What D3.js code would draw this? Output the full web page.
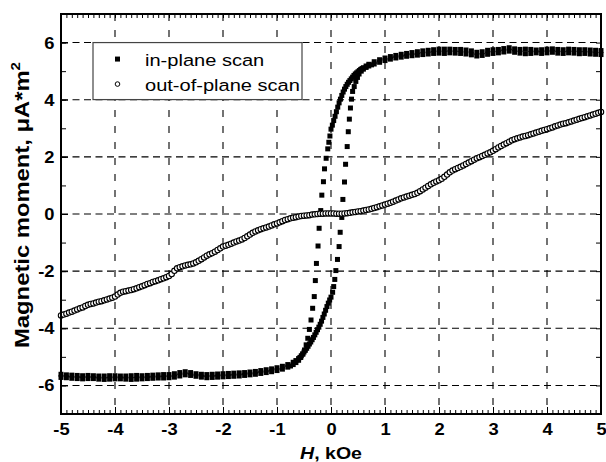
<!DOCTYPE html>
<html>
<head>
<meta charset="utf-8">
<script src="https://cdn.jsdelivr.net/npm/d3@7"></script>
<style>
  body { margin: 0; background: #fff; }
  svg text { font-family: "Liberation Sans", Arial, sans-serif; fill: #000; }
</style>
</head>
<body>
<div id="chart"></div>
<script>
// tick labels
const xTicks = [-5, -4, -3, -2, -1, 0, 1, 2, 3, 4, 5];
const yTicks = [-6, -4, -2, 0, 2, 4, 6];
const legendLabels = ["in-plane scan", "out-of-plane scan"];

// in-plane scan, descending field branch  [H (kOe), moment]
const ipDownSat = [[5.0,5.72],[4.9,5.73],[4.8,5.74],[4.7,5.75],[4.6,5.75],[4.5,5.76],[4.4,5.77],[4.3,5.75],[4.2,5.76],[4.1,5.78],
  [4.0,5.77],[3.9,5.75],[3.8,5.74],[3.7,5.76],[3.6,5.77],[3.5,5.76],[3.4,5.78],[3.3,5.82],[3.2,5.79],[3.1,5.76],
  [3.0,5.75],[2.9,5.73],[2.8,5.68],[2.7,5.66],[2.6,5.71],[2.5,5.74],[2.4,5.76],[2.3,5.76],[2.2,5.77],[2.1,5.77],
  [2.0,5.77],[1.9,5.75],[1.8,5.73],[1.7,5.71],[1.6,5.68],[1.5,5.65],[1.4,5.62],[1.3,5.59],[1.2,5.55],[1.1,5.51],
  [1.0,5.46],[0.9,5.40],[0.8,5.33],[0.7,5.24],[0.65,5.18]];
const ipDownSteep = [[0.6,5.12],[0.575,5.09],[0.55,5.06],[0.525,5.02],[0.5,4.98],[0.475,4.94],[0.45,4.90],[0.425,4.85],
  [0.4,4.79],[0.375,4.73],[0.35,4.67],[0.325,4.61],[0.3,4.54],[0.275,4.46],[0.25,4.37],[0.225,4.27],[0.2,4.15],
  [0.175,4.02],[0.15,3.89],[0.125,3.74],[0.1,3.58],[0.075,3.42],[0.05,3.27],[0.025,3.11],[0.0,2.97]];
const ipDownSwitch = [[-0.02,2.73],[-0.04,2.51],[-0.06,2.28],[-0.09,1.95],[-0.12,1.58],[-0.14,1.13],[-0.17,0.66],
  [-0.19,0.12],[-0.22,-0.5],[-0.24,-1.12],[-0.27,-1.73],[-0.29,-2.33],[-0.31,-2.89],[-0.34,-3.3],[-0.37,-3.71],
  [-0.40,-4.04],[-0.43,-4.35],[-0.46,-4.58]];
const ipDownNeg = [[-0.49,-4.76],[-0.52,-4.9],[-0.56,-5.02],[-0.6,-5.12],[-0.65,-5.2],[-0.7,-5.27],[-0.75,-5.32],
  [-0.8,-5.36],[-0.9,-5.43],[-1.0,-5.48],[-1.1,-5.52],[-1.2,-5.55],[-1.3,-5.58],[-1.4,-5.61],[-1.5,-5.63],[-1.6,-5.65],
  [-1.7,-5.67],[-1.8,-5.68],[-1.9,-5.69],[-2.0,-5.70],[-2.1,-5.71],[-2.2,-5.72],[-2.3,-5.73],[-2.4,-5.71],[-2.5,-5.68],
  [-2.6,-5.65],[-2.7,-5.63],[-2.8,-5.67],[-2.9,-5.71],[-3.0,-5.73],[-3.1,-5.74],[-3.2,-5.74],[-3.3,-5.75],[-3.4,-5.76],
  [-3.5,-5.77],[-3.6,-5.78],[-3.7,-5.79],[-3.8,-5.78],[-3.9,-5.77],[-4.0,-5.77],[-4.1,-5.78],[-4.2,-5.79],[-4.3,-5.78],
  [-4.4,-5.76],[-4.5,-5.76],[-4.6,-5.77],[-4.7,-5.76],[-4.8,-5.75],[-4.9,-5.73],[-5.0,-5.72]];

// in-plane scan, ascending field branch
const ipUpSat = [[-5.0,-5.61],[-4.9,-5.63],[-4.8,-5.64],[-4.7,-5.65],[-4.6,-5.66],[-4.5,-5.65],[-4.4,-5.66],[-4.3,-5.67],
  [-4.2,-5.67],[-4.1,-5.66],[-4.0,-5.66],[-3.9,-5.67],[-3.8,-5.67],[-3.7,-5.66],[-3.6,-5.65],[-3.5,-5.66],[-3.4,-5.65],
  [-3.3,-5.64],[-3.2,-5.63],[-3.1,-5.62],[-3.0,-5.62],[-2.9,-5.59],[-2.8,-5.55],[-2.7,-5.52],[-2.6,-5.55],[-2.5,-5.59],
  [-2.4,-5.61],[-2.3,-5.62],[-2.2,-5.61],[-2.1,-5.60],[-2.0,-5.59],[-1.9,-5.58],[-1.8,-5.57],[-1.7,-5.56],[-1.6,-5.55],
  [-1.5,-5.53],[-1.4,-5.51],[-1.3,-5.48],[-1.2,-5.45],[-1.1,-5.42],[-1.0,-5.38],[-0.9,-5.33],[-0.8,-5.27],[-0.7,-5.19],
  [-0.65,-5.13]];
const ipUpSteep = [[-0.6,-5.06],[-0.575,-5.02],[-0.55,-4.96],[-0.525,-4.90],[-0.5,-4.83],[-0.475,-4.77],[-0.45,-4.70],
  [-0.425,-4.63],[-0.4,-4.55],[-0.375,-4.48],[-0.35,-4.40],[-0.325,-4.32],[-0.3,-4.23],[-0.275,-4.14],[-0.25,-4.05],
  [-0.225,-3.96],[-0.2,-3.86],[-0.175,-3.75],[-0.15,-3.62],[-0.125,-3.50],[-0.1,-3.37],[-0.075,-3.24],[-0.05,-3.12],
  [-0.025,-3.01],[0.0,-2.91]];
const ipUpSwitch = [[0.03,-2.74],[0.05,-2.54],[0.07,-2.29],[0.09,-1.98],[0.12,-1.59],[0.15,-1.14],[0.17,-0.64],
  [0.2,-0.12],[0.22,0.51],[0.25,1.12],[0.27,1.74],[0.3,2.36],[0.32,2.88],[0.34,3.32],[0.36,3.71],[0.38,4.02],
  [0.4,4.29],[0.43,4.46],[0.46,4.64]];
const ipUpPos = [[0.49,4.78],[0.52,4.9],[0.56,5.0],[0.6,5.07],[0.65,5.13],[0.7,5.18],[0.75,5.22],[0.8,5.25],
  [0.9,5.31],[1.0,5.37],[1.1,5.42],[1.2,5.46],[1.3,5.49],[1.4,5.52],[1.5,5.54],[1.6,5.56],[1.7,5.58],[1.8,5.60],
  [1.9,5.62],[2.0,5.63],[2.1,5.62],[2.2,5.64],[2.3,5.63],[2.4,5.62],[2.5,5.60],[2.6,5.57],[2.7,5.53],[2.8,5.55],
  [2.9,5.59],[3.0,5.62],[3.1,5.64],[3.2,5.67],[3.3,5.70],[3.4,5.66],[3.5,5.63],[3.6,5.61],[3.7,5.62],[3.8,5.64],
  [3.9,5.62],[4.0,5.64],[4.1,5.66],[4.2,5.63],[4.3,5.62],[4.4,5.64],[4.5,5.63],[4.6,5.61],[4.7,5.62],[4.8,5.60],
  [4.9,5.59],[5.0,5.58]];

// out-of-plane scan  [H (kOe), moment]
const oopScan = [[-5.0,-3.55],[-4.95,-3.52],[-4.9,-3.49],[-4.85,-3.45],[-4.8,-3.42],[-4.75,-3.38],[-4.7,-3.34],
  [-4.65,-3.30],[-4.6,-3.27],[-4.55,-3.22],[-4.5,-3.18],[-4.45,-3.15],[-4.4,-3.13],[-4.35,-3.10],[-4.3,-3.07],
  [-4.25,-3.05],[-4.2,-3.02],[-4.15,-2.99],[-4.1,-2.96],[-4.05,-2.93],[-4.0,-2.89],[-3.95,-2.82],[-3.9,-2.76],
  [-3.85,-2.72],[-3.8,-2.70],[-3.75,-2.68],[-3.7,-2.66],[-3.65,-2.63],[-3.6,-2.60],[-3.55,-2.56],[-3.5,-2.53],
  [-3.45,-2.49],[-3.4,-2.45],[-3.35,-2.42],[-3.3,-2.38],[-3.25,-2.35],[-3.2,-2.32],[-3.15,-2.28],[-3.1,-2.25],
  [-3.05,-2.21],[-3.0,-2.17],[-2.95,-2.10],[-2.9,-1.99],[-2.85,-1.90],[-2.8,-1.86],[-2.75,-1.83],[-2.7,-1.80],
  [-2.65,-1.78],[-2.6,-1.76],[-2.55,-1.73],[-2.5,-1.69],[-2.45,-1.64],[-2.4,-1.58],[-2.35,-1.52],[-2.3,-1.46],
  [-2.25,-1.41],[-2.2,-1.37],[-2.15,-1.32],[-2.1,-1.26],[-2.05,-1.20],[-2.0,-1.14],[-1.95,-1.11],[-1.9,-1.08],
  [-1.85,-1.04],[-1.8,-1.00],[-1.75,-0.96],[-1.7,-0.93],[-1.65,-0.89],[-1.6,-0.84],[-1.55,-0.78],[-1.5,-0.72],
  [-1.45,-0.66],[-1.4,-0.61],[-1.35,-0.57],[-1.3,-0.53],[-1.25,-0.50],[-1.2,-0.47],[-1.15,-0.44],[-1.1,-0.40],
  [-1.05,-0.36],[-1.0,-0.33],[-0.95,-0.29],[-0.9,-0.25],[-0.85,-0.21],[-0.8,-0.18],[-0.75,-0.15],[-0.7,-0.13],
  [-0.65,-0.11],[-0.6,-0.09],[-0.55,-0.07],[-0.5,-0.06],[-0.45,-0.05],[-0.4,-0.04],[-0.35,-0.02],[-0.3,-0.01],
  [-0.25,0.00],[-0.2,0.01],[-0.15,0.01],[-0.1,0.02],[-0.05,0.02],[0.0,0.02],[0.05,0.02],[0.1,0.01],[0.15,0.01],
  [0.2,0.01],[0.25,0.02],[0.3,0.03],[0.35,0.04],[0.4,0.06],[0.45,0.07],[0.5,0.09],[0.55,0.10],[0.6,0.12],
  [0.65,0.14],[0.7,0.16],[0.75,0.18],[0.8,0.21],[0.85,0.24],[0.9,0.27],[0.95,0.30],[1.0,0.33],[1.05,0.36],
  [1.1,0.39],[1.15,0.43],[1.2,0.47],[1.25,0.51],[1.3,0.55],[1.35,0.58],[1.4,0.61],[1.45,0.64],[1.5,0.67],
  [1.55,0.70],[1.6,0.74],[1.65,0.80],[1.7,0.86],[1.75,0.92],[1.8,0.98],[1.85,1.04],[1.9,1.09],[1.95,1.14],
  [2.0,1.18],[2.05,1.23],[2.1,1.30],[2.15,1.38],[2.2,1.46],[2.25,1.52],[2.3,1.57],[2.35,1.61],[2.4,1.65],
  [2.45,1.70],[2.5,1.75],[2.55,1.80],[2.6,1.85],[2.65,1.90],[2.7,1.95],[2.75,1.99],[2.8,2.03],[2.85,2.07],
  [2.9,2.12],[2.95,2.16],[3.0,2.21],[3.05,2.27],[3.1,2.33],[3.15,2.38],[3.2,2.43],[3.25,2.48],[3.3,2.53],
  [3.35,2.58],[3.4,2.62],[3.45,2.65],[3.5,2.68],[3.55,2.71],[3.6,2.73],[3.65,2.76],[3.7,2.79],[3.75,2.82],
  [3.8,2.85],[3.85,2.88],[3.9,2.91],[3.95,2.94],[4.0,2.97],[4.05,3.00],[4.1,3.03],[4.15,3.07],[4.2,3.10],
  [4.25,3.13],[4.3,3.16],[4.35,3.18],[4.4,3.21],[4.45,3.24],[4.5,3.27],[4.55,3.30],[4.6,3.33],[4.65,3.36],
  [4.7,3.39],[4.75,3.42],[4.8,3.45],[4.85,3.48],[4.9,3.51],[4.95,3.54],[5.0,3.57]];

const inPlane = [].concat(ipDownSat, ipDownSteep, ipDownSwitch, ipDownNeg,
                          ipUpSat, ipUpSteep, ipUpSwitch, ipUpPos);

const margin = {top: 14, right: 5, bottom: 48, left: 61};
const totalW = 606, totalH = 462;
const width = totalW - margin.left - margin.right;   // 540
const height = totalH - margin.top - margin.bottom;  // 400
const stretch = 1.08;       // tick type is a little wider than plain Arial
const legendStretch = 1.18;

const svg = d3.select("#chart").append("svg")
    .attr("width", totalW)
    .attr("height", totalH);
const g = svg.append("g")
    .attr("transform", `translate(${margin.left},${margin.top})`);

const x = d3.scaleLinear().domain([-5, 5]).range([0, width]);
const y = d3.scaleLinear().domain([-7, 7]).range([height, 0]);

// dashed grid
g.append("g").selectAll("line")
    .data(xTicks.slice(1, -1))
    .join("line")
    .attr("x1", d => x(d)).attr("x2", d => x(d))
    .attr("y1", 0).attr("y2", height)
    .attr("stroke", "#000").attr("stroke-width", 1.1)
    .attr("stroke-dasharray", "7,9");
g.append("g").selectAll("line")
    .data(yTicks)
    .join("line")
    .attr("x1", 0).attr("x2", width)
    .attr("y1", d => y(d)).attr("y2", d => y(d))
    .attr("stroke", "#000").attr("stroke-width", 1.1)
    .attr("stroke-dasharray", "7,4.5");

// minor ticks, pointing inward
const minorX = d3.range(-50, 51).map(i => i / 10);
const minorY = d3.range(-7, 8);
g.append("g").attr("transform", `translate(0,${height})`)
    .call(d3.axisBottom(x).tickValues(minorX).tickSize(-4).tickFormat(""))
    .call(a => a.select(".domain").remove());
g.append("g")
    .call(d3.axisTop(x).tickValues(minorX).tickSize(-4).tickFormat(""))
    .call(a => a.select(".domain").remove());
g.append("g")
    .call(d3.axisLeft(y).tickValues(minorY).tickSize(-5).tickFormat(""))
    .call(a => a.select(".domain").remove());
g.append("g").attr("transform", `translate(${width},0)`)
    .call(d3.axisRight(y).tickValues(minorY).tickSize(-5).tickFormat(""))
    .call(a => a.select(".domain").remove());

// labelled axes
const xAxis = g.append("g").attr("transform", `translate(0,${height})`)
    .call(d3.axisBottom(x).tickValues(xTicks).tickSize(-7).tickPadding(9));
const yAxis = g.append("g")
    .call(d3.axisLeft(y).tickValues(yTicks).tickSize(-7).tickPadding(6));
[xAxis, yAxis].forEach(a => {
    a.selectAll(".domain").remove();
    a.selectAll(".tick line").attr("stroke", "#000");
    a.selectAll(".tick text")
        .attr("font-size", "17px")
        .attr("font-weight", "bold")
        .attr("font-family", "'Liberation Sans', Arial, sans-serif")
        .attr("transform", `scale(${stretch},1)`)
        .text(d => d < 0 ? "-" + Math.abs(d) : d);
});

// in-plane scan: filled squares
const sq = 5;
g.append("g").selectAll("rect")
    .data(inPlane)
    .join("rect")
    .attr("x", d => x(d[0]) - sq / 2)
    .attr("y", d => y(d[1]) - sq / 2)
    .attr("width", sq).attr("height", sq)
    .attr("fill", "#000");

// out-of-plane scan: open circles
g.append("g").selectAll("circle")
    .data(oopScan)
    .join("circle")
    .attr("cx", d => x(d[0]))
    .attr("cy", d => y(d[1]))
    .attr("r", 2.7)
    .attr("fill", "#fff")
    .attr("stroke", "#000")
    .attr("stroke-width", 1.1);

// frame
g.append("rect")
    .attr("width", width).attr("height", height)
    .attr("fill", "none").attr("stroke", "#000").attr("stroke-width", 2);

// legend
const leg = g.append("g").attr("transform", `translate(${x(-4.4) - 0.4},${y(6)})`);
leg.append("rect")
    .attr("width", 209).attr("height", 57)
    .attr("fill", "#fff").attr("stroke", "#444").attr("stroke-width", 1.2);
leg.append("rect").attr("x", 22).attr("y", 14).attr("width", 5).attr("height", 5).attr("fill", "#000");
leg.append("circle").attr("cx", 24.5).attr("cy", 41.5).attr("r", 2.3)
    .attr("fill", "#fff").attr("stroke", "#000").attr("stroke-width", 1);
leg.selectAll("text.lab")
    .data(legendLabels)
    .join("text")
    .attr("class", "lab")
    .attr("transform", (d, i) => `translate(52,${23 + i * 25}) scale(${legendStretch},1)`)
    .attr("font-size", "17px")
    .text(d => d);

// axis titles
const xt = svg.append("text")
    .attr("transform", `translate(${margin.left + x(0)},${totalH - 3}) scale(1.15,1)`)
    .attr("text-anchor", "middle")
    .attr("font-size", "17px")
    .attr("font-weight", "bold");
xt.append("tspan").attr("font-style", "italic").text("H");
xt.append("tspan").text(", kOe");

const yt = svg.append("text")
    .attr("transform", `translate(28.5,205) scale(0.82,1) rotate(-90)`)
    .attr("text-anchor", "middle")
    .attr("font-size", "23.8px")
    .attr("font-weight", "bold");
yt.append("tspan").text("Magnetic moment, \u03bcA*m");
yt.append("tspan").attr("font-size", "15px").attr("dy", "-10").text("2");
</script>
</body>
</html>
